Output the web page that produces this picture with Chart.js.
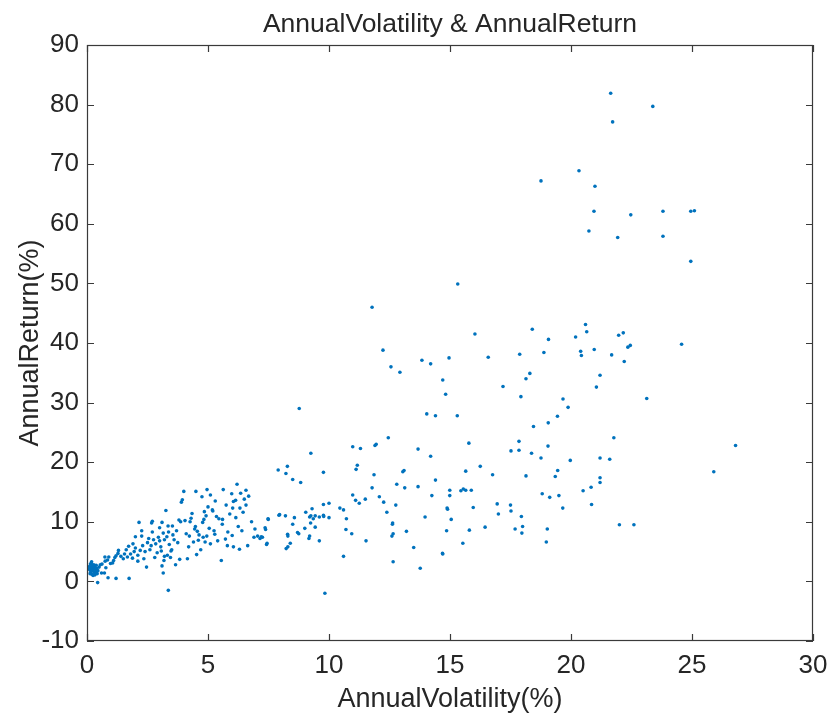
<!DOCTYPE html>
<html>
<head>
<meta charset="utf-8">
<script src="https://cdn.jsdelivr.net/npm/chart.js@4.4.0/dist/chart.umd.min.js"></script>
<style>
html,body{margin:0;padding:0;background:#fff;}
#wrap{width:830px;height:716px;position:relative;}
</style>
</head>
<body>
<div id="wrap"><canvas id="c" width="830" height="716"></canvas></div>
<script>
// ---- data (AnnualVolatility %, AnnualReturn %) ----
const annualVolatility = [
0.10,0.12,0.14,0.15,0.17,0.18,0.20,0.21,0.22,0.24,0.25,0.27,0.28,0.30,0.31,0.33,0.35,0.37,0.38,0.40,0.42,0.08,0.13,0.19,0.44,0.45,0.50,
0.55,0.62,0.60,0.72,0.78,0.75,0.85,0.90,0.74,0.97,1.06,1.20,1.74,0.87,1.30,1.28,1.15,1.10,1.20,1.40,1.50,1.55,1.62,1.67,1.72,1.80,1.88,1.95,2.00,2.10,
2.15,2.26,2.26,2.30,2.40,2.46,2.50,2.55,2.60,2.67,2.70,2.75,2.84,2.90,2.95,3.00,3.05,3.07,3.10,3.10,3.15,3.18,3.20,3.26,3.30,3.32,3.35,3.36,3.37,3.40,
3.47,3.50,3.53,3.60,3.66,3.70,3.75,3.83,3.87,3.90,3.94,4.00,4.05,4.10,4.15,4.20,4.23,4.26,4.34,4.40,4.45,4.48,4.50,4.53,4.56,4.63,4.70,4.75,4.78,4.80,
4.83,4.85,4.88,4.92,4.95,4.96,5.00,5.05,5.10,5.18,5.20,5.25,5.28,5.30,5.40,5.45,5.55,5.59,5.63,5.72,5.80,5.82,5.90,5.98,6.00,6.02,6.05,6.05,6.14,6.20,
6.25,6.30,6.32,6.40,6.50,6.57,6.57,6.64,6.68,6.80,6.90,6.94,7.05,7.15,7.25,7.38,7.42,7.49,7.93,7.20,7.36,7.44,7.48,2.10,1.90,2.35,2.80,2.20,2.65,3.20,
3.55,3.45,2.00,2.70,3.00,3.15,3.80,4.60,4.30,5.35,5.60,6.15,6.45,5.75,5.10,6.35,
8.77,14.04,14.40,15.30,12.45,10.98,11.30,11.90,11.95,13.68,14.20,9.25,7.90,8.28,8.22,8.50,8.83,9.77,11.17,11.12,11.86,13.05,13.10,12.80,13.13,13.68,14.40,
11.78,10.98,11.10,11.25,11.50,12.08,12.26,12.76,14.25,14.90,12.39,13.97,10.72,10.45,10.60,10.00,9.77,10.00,9.30,9.04,9.77,9.78,9.60,9.43,9.35,9.20,9.25,
8.57,8.20,7.96,8.50,8.29,8.30,8.70,8.75,9.00,9.20,9.17,9.43,9.24,9.60,8.40,8.30,8.23,10.70,10.94,11.53,12.62,12.63,12.60,12.65,13.20,13.50,14.69,10.60,
12.65,13.77,9.83,14.86,
15.32,16.03,18.40,19.07,20.60,20.65,20.19,21.97,22.16,22.35,22.45,14.96,16.58,17.88,18.88,20.40,20.43,20.96,21.68,22.20,14.70,14.82,18.30,18.14,17.19,
17.93,21.20,21.05,19.67,19.88,19.44,19.06,18.45,15.78,17.85,17.52,17.85,18.37,18.76,19.05,19.97,21.77,21.20,21.60,16.25,15.65,16.76,18.14,19.45,19.35,
21.20,21.20,20.83,20.50,20.85,14.99,14.99,15.45,15.55,15.65,15.88,14.88,15.96,15.05,15.80,15.53,14.70,16.45,16.95,17.00,17.50,17.52,17.95,18.00,17.97,
17.69,18.81,19.12,19.50,19.66,19.02,18.98,22.00,22.60,
21.64,23.38,21.72,22.47,23.80,24.95,25.10,21.93,23.80,24.95,24.57,23.13,26.80,25.90,
18.76,20.33,20.99,20.95,20.74,11.78,12.23,12.56,12.93,13.84,14.20
];
const annualReturn = [
2.5,1.9,2.9,1.5,2.2,3.1,1.2,2.6,1.8,2.3,1.0,2.0,2.8,1.5,2.4,1.1,2.0,1.6,2.7,2.2,1.3,2.1,1.3,3.3,-0.2,1.8,2.4,
2.8,2.9,1.4,1.4,2.3,3.4,3.6,4.1,4.1,3.0,3.1,0.5,0.5,0.6,5.2,4.7,4.0,3.5,4.3,4.2,3.8,4.6,5.3,4.1,5.9,4.6,3.9,5.0,5.6,4.4,
9.9,8.5,7.6,6.0,5.0,2.4,6.5,7.2,5.3,9.8,10.1,7.0,6.3,4.8,7.4,6.8,5.8,5.1,2.6,9.9,1.4,3.5,4.2,11.9,7.5,4.4,9.3,-1.5,8.3,6.2,
5.1,5.3,9.3,7.0,2.8,8.5,6.5,3.7,10.0,13.3,13.7,15.1,10.2,8.0,3.8,5.8,7.6,10.0,11.4,6.6,8.8,9.2,15.1,4.5,8.4,7.8,5.3,14.2,9.9,7.4,
10.4,11.7,6.6,11.0,7.6,15.4,12.5,8.9,6.3,12.0,11.8,8.5,7.9,13.5,6.8,10.5,3.5,9.6,15.4,7.1,6.0,8.3,11.3,14.7,7.7,12.3,13.4,5.8,13.6,16.3,
9.2,5.4,12.3,8.5,13.8,15.3,12.8,6.0,14.3,10.0,7.4,8.8,7.6,7.2,7.4,8.7,6.2,10.4,11.1,7.5,9.0,6.4,10.5,3.4,6.3,3.8,4.0,5.2,6.0,7.0,
7.8,4.0,7.5,8.3,9.0,8.1,10.3,6.9,10.6,10.9,10.4,10.7,11.6,12.8,14.5,14.8,
29.0,28.1,27.8,27.8,24.1,22.6,22.3,22.8,23.0,22.2,21.0,21.5,18.7,19.3,18.1,17.1,16.6,18.3,19.5,18.8,17.9,18.4,18.6,16.3,15.7,15.9,17.0,
15.7,14.5,13.6,13.1,13.8,14.2,13.3,12.8,14.4,12.1,11.6,10.8,10.5,12.3,12.0,10.7,12.9,13.1,12.2,11.6,11.1,10.9,10.8,11.0,10.5,10.8,11.0,
10.7,11.0,11.2,9.6,7.9,7.6,8.2,8.0,8.9,7.6,7.2,9.1,9.8,6.8,6.4,5.8,5.5,8.7,8.0,6.8,9.6,9.8,7.6,8.0,8.4,5.7,4.7,4.2,
3.3,2.2,-2.0,8.5,
49.9,41.5,42.3,40.6,43.1,41.9,41.0,41.3,41.7,39.3,39.6,37.5,37.6,38.1,38.4,38.6,37.9,38.9,38.0,36.9,33.8,31.4,34.9,34.0,32.7,
31.0,34.6,32.6,30.6,29.2,27.7,26.6,26.0,23.2,23.5,21.9,22.0,21.5,20.7,22.7,20.3,24.1,20.7,20.5,19.3,18.5,17.9,17.7,18.6,17.6,
17.4,16.6,15.8,15.2,12.9,15.3,14.4,15.2,15.5,15.3,15.3,12.3,12.4,10.4,8.6,6.4,4.6,9.1,13.0,11.3,12.8,11.8,10.9,9.2,8.1,
8.8,14.7,14.1,14.4,12.3,8.8,6.6,9.5,9.5,
81.9,79.7,77.1,61.5,62.1,62.1,62.2,57.7,57.9,53.7,39.8,30.7,22.8,18.4,
67.2,68.9,66.3,62.1,58.8,46.0,38.8,36.0,35.1,37.1,36.5
];
const xTicks = [0,5,10,15,20,25,30];
const yTicks = [-10,0,10,20,30,40,50,60,70,80,90];

const points = annualVolatility.map((v,i)=>({x:v,y:annualReturn[i]}));
const TXT = '#262626';
const FONT = "'Liberation Sans', Arial, sans-serif";

// box + inward ticks on all four sides (MATLAB style)
const boxPlugin = {
  id:'box',
  afterDraw(chart){
    const {ctx, chartArea:a, scales:{x,y}} = chart;
    ctx.save();
    ctx.strokeStyle = '#3a3a3a'; ctx.lineWidth = 1.2;
    ctx.strokeRect(a.left+0.5, a.top+0.5, a.right-a.left-1, a.bottom-a.top-1);
    const L = 7;
    ctx.beginPath();
    xTicks.forEach(t=>{
      const px = Math.round(x.getPixelForValue(t))+0.5;
      ctx.moveTo(px,a.bottom); ctx.lineTo(px,a.bottom-L);
      ctx.moveTo(px,a.top); ctx.lineTo(px,a.top+L);
    });
    yTicks.forEach(t=>{
      const py = Math.round(y.getPixelForValue(t))+0.5;
      ctx.moveTo(a.left,py); ctx.lineTo(a.left+L,py);
      ctx.moveTo(a.right,py); ctx.lineTo(a.right-L,py);
    });
    ctx.stroke();
    ctx.restore();
  }
};

new Chart(document.getElementById('c'), {
  type:'scatter',
  data:{datasets:[{
    data:points,
    backgroundColor:'#0072BD',
    borderWidth:0,
    pointRadius:1.8,
    pointHoverRadius:1.8
  }]},
  options:{
    responsive:false,
    animation:false,
    layout:{padding:{left:0,right:0,top:0,bottom:0}},
    plugins:{
      legend:{display:false},
      tooltip:{enabled:false},
      title:{display:true,fullSize:false,text:'AnnualVolatility & AnnualReturn',color:TXT,
        font:{family:FONT,size:26.5,weight:'normal'},padding:{top:9,bottom:4.2}}
    },
    scales:{
      x:{type:'linear',min:0,max:30,
        afterBuildTicks(s){s.ticks = xTicks.map(v=>({value:v}));},
        afterFit(s){s.height = 75; s.paddingRight = 17; s.paddingLeft = 0;},
        grid:{display:false,drawTicks:false},
        border:{display:false},
        ticks:{color:TXT,font:{family:FONT,size:26},padding:9,maxRotation:0},
        title:{display:true,text:'AnnualVolatility(%)',color:TXT,font:{family:FONT,size:27},padding:{top:0,bottom:0}}
      },
      y:{type:'linear',min:-10,max:90,
        afterBuildTicks(s){s.ticks = yTicks.map(v=>({value:v}));},
        afterFit(s){s.width = 87;},
        grid:{display:false,drawTicks:false},
        border:{display:false},
        ticks:{color:TXT,font:{family:FONT,size:26},padding:8},
        title:{display:true,text:'AnnualReturn(%)',color:TXT,font:{family:FONT,size:27},padding:{top:14,bottom:0}}
      }
    }
  },
  plugins:[boxPlugin]
});
</script>
</body>
</html>
